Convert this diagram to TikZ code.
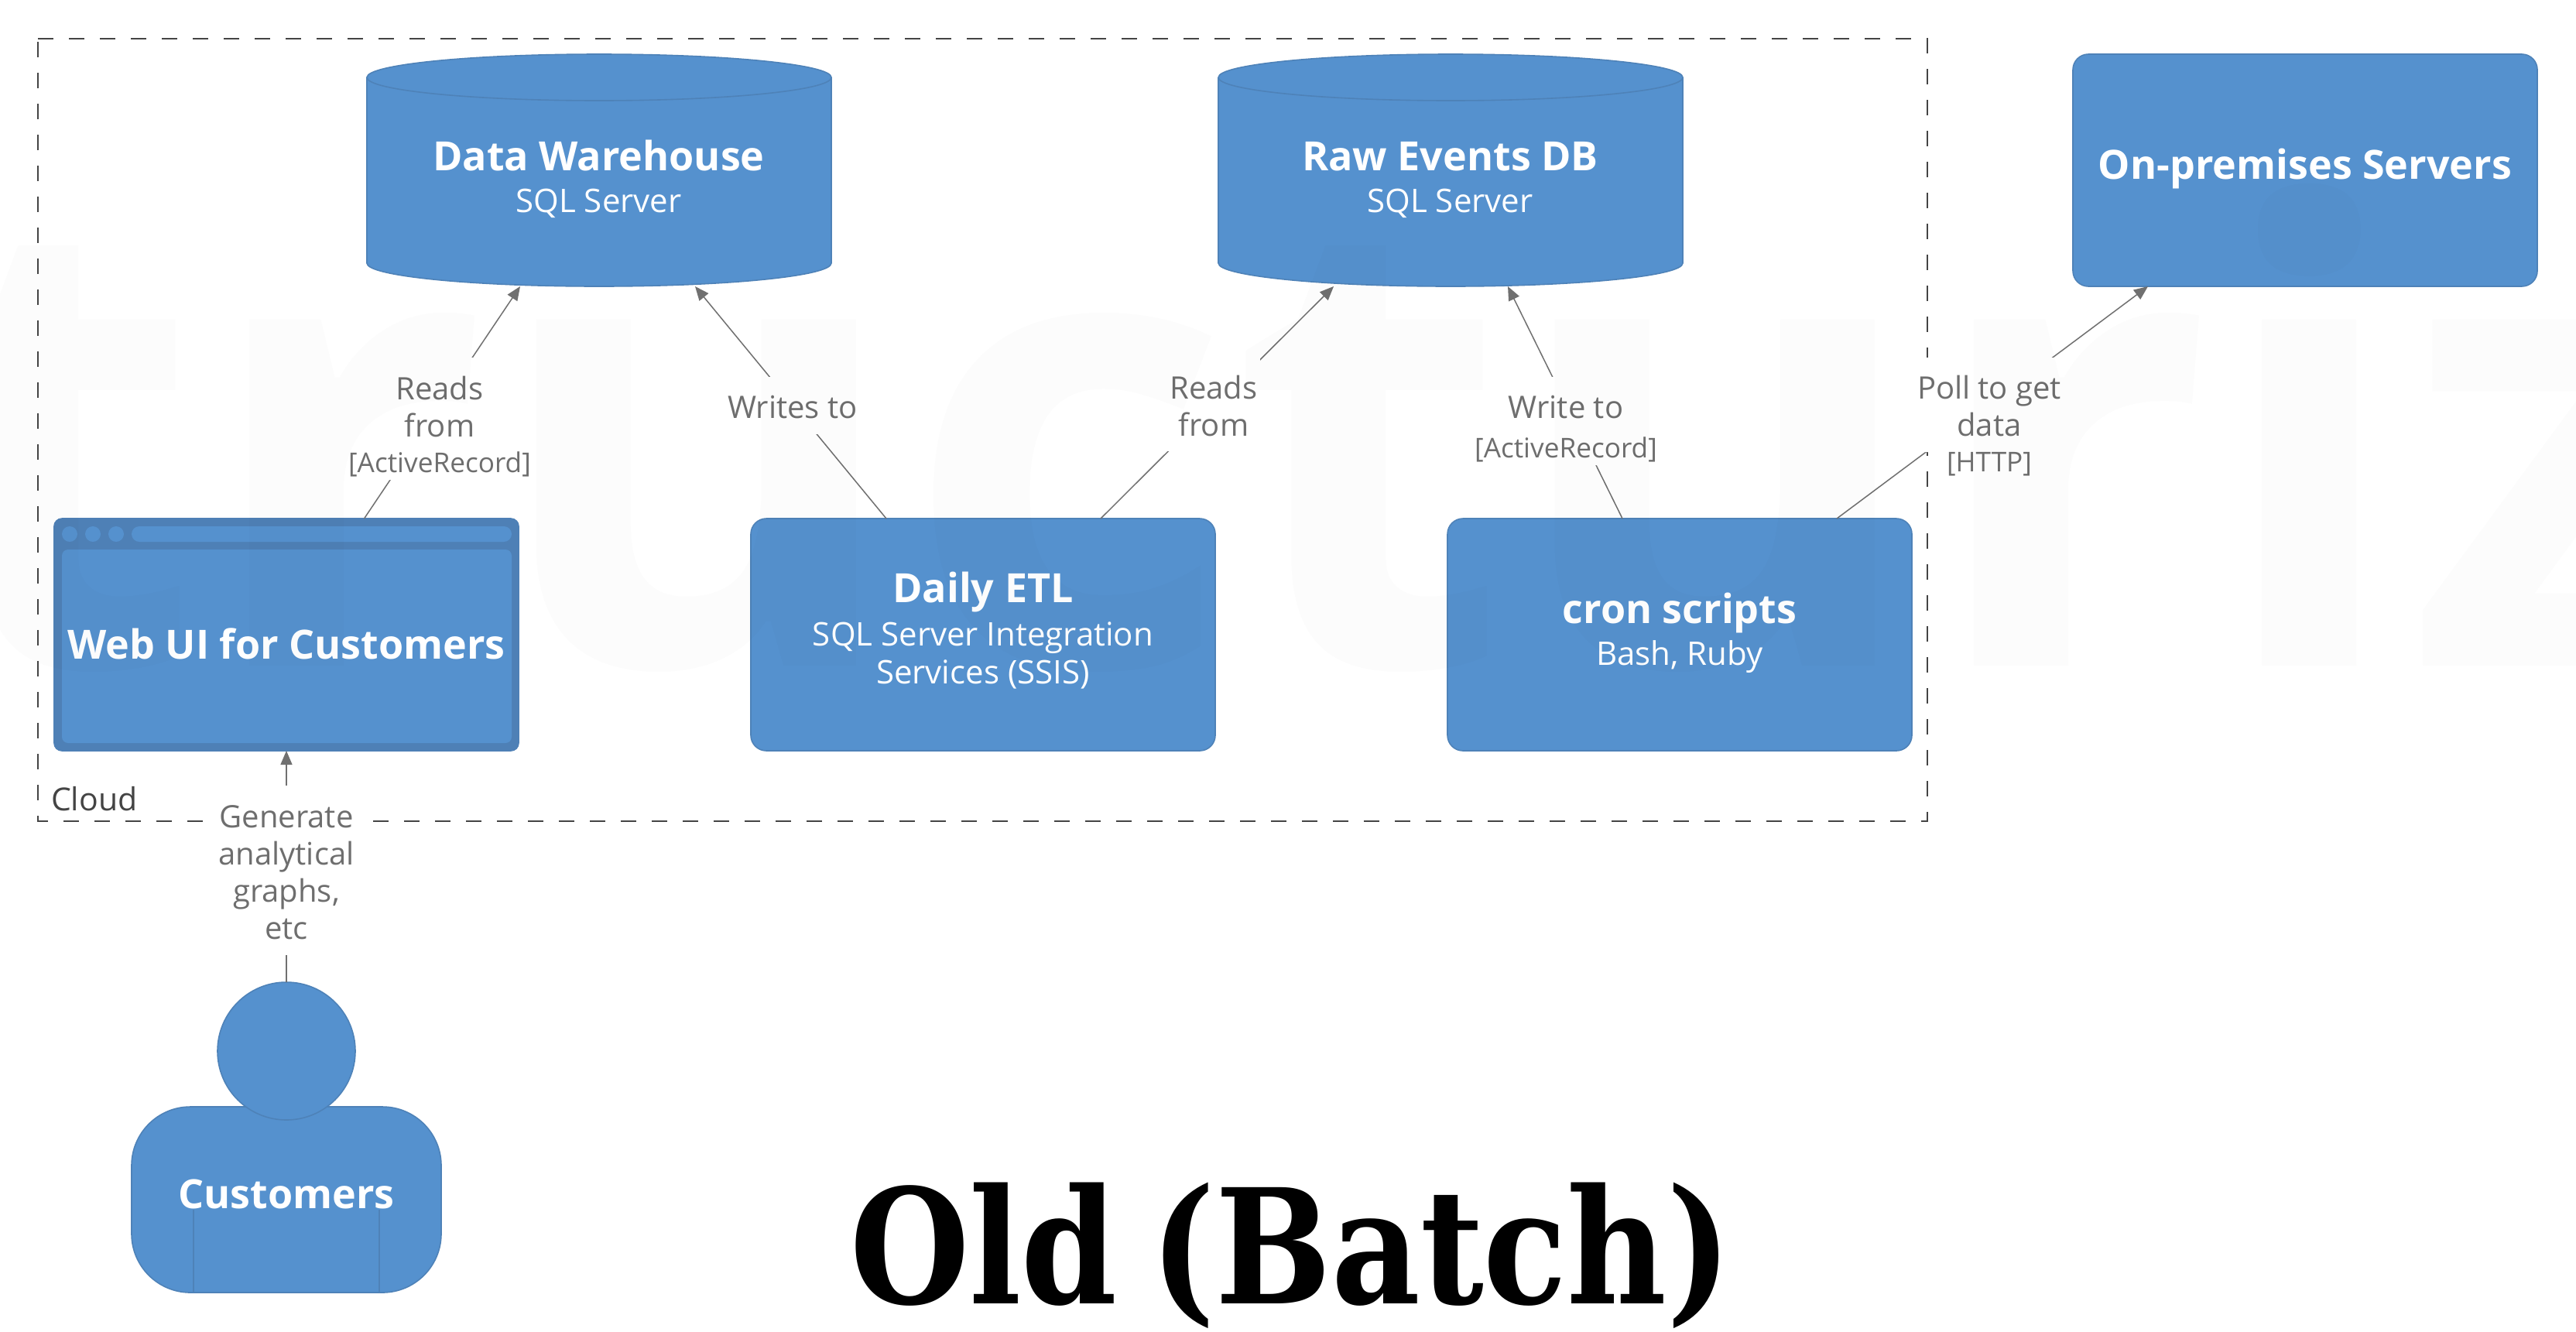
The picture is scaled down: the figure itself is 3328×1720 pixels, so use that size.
\documentclass[tikz,border=0pt]{standalone}
\usepackage{fontspec}
\setmainfont{Open Sans}
\newfontfamily\titlefont{DejaVu Serif}[FakeStretch=0.86,WordSpace=0.7]
\usetikzlibrary{arrows.meta,calc,shapes.geometric}
\definecolor{blu}{HTML}{5591CE}
\definecolor{edgeblu}{HTML}{4E82B8}
\definecolor{frameblu}{HTML}{4E80B6}
\definecolor{linkgrey}{HTML}{707070}
\definecolor{labgrey}{HTML}{6E6E6E}
\definecolor{cloudgrey}{HTML}{444444}
\tikzset{
  px/.style={inner sep=0pt,outer sep=0pt},
  boxnode/.style={px,rectangle,minimum width=300pt,minimum height=150pt,anchor=north west,draw=edgeblu,fill=blu,line width=.8pt,rounded corners=10pt},
  holder/.style={px,rectangle,minimum width=300pt,minimum height=150pt,anchor=north west},
  shapeline/.style={draw=edgeblu,fill=blu,line width=.8pt},
  link/.style={draw=linkgrey,line width=.75pt,-{Triangle[length=9pt,width=7.5pt]}},
  namet/.style={px,anchor=base,text=white,font=\fontsize{26}{30}\selectfont\bfseries},
  subt/.style={px,anchor=base,text=white,align=center,font=\fontsize{21}{24.5}\selectfont},
  lab/.style={px,anchor=base,text=labgrey,align=center,font=\fontsize{20}{24}\selectfont},
  meta/.style={px,anchor=base,text=labgrey,font=\fontsize{17.6}{20}\selectfont},
}
\newcommand{\cyl}[2]{% left x, name
  \path[shapeline] (#1,100) arc[x radius=300,y radius=30,start angle=180,end angle=360]
     -- (#1+600,340) arc[x radius=300,y radius=30,start angle=0,end angle=180] -- cycle;
  \draw[edgeblu,line width=.8pt] (#1,100) arc[x radius=300,y radius=30,start angle=180,end angle=0];
  \node[holder] (#2) at (#1,70) {};
}
\begin{document}
\begin{tikzpicture}[x=0.5pt,y=-0.5pt]
\useasboundingbox (0,0) rectangle (3328,1720);
\fill[white] (0,0) rectangle (3328,1720);
% boundary
\draw[cloudgrey,line width=1.1pt,dash pattern=on 10pt off 10pt] (49,50) -- (2490,50) -- (2490,1061) -- (49,1061) -- cycle;
\node[px,anchor=base west,text=cloudgrey,font=\fontsize{20.5}{24}\selectfont] (cloudlab) at (66,1047) {Cloud};
% shapes
\cyl{474}{dw}
\cyl{1574}{raw}
\node[boxnode] (onprem) at (2678,70) {};
\node[boxnode,rounded corners=5pt,draw=frameblu,fill=frameblu] (webui) at (70,670) {};
\node[boxnode] (etl) at (970,670) {};
\node[boxnode] (cron) at (1870,670) {};
\fill[blu,rounded corners=4pt] (80,710) rectangle (661,960);
\fill[blu] (90,690) circle (10) (120,690) circle (10) (150,690) circle (10);
\fill[blu,rounded corners=5pt] (170,680) rectangle (661,700);
% person
\node[px,rectangle,minimum width=200pt,minimum height=120pt,anchor=north west,draw=edgeblu,fill=blu,line width=.8pt,rounded corners=38pt] (body) at (170,1430) {};
\node[px,circle,minimum size=89pt,draw=edgeblu,fill=blu,line width=.8pt] (customers) at (370,1358) {};
\draw[edgeblu,line width=.8pt] (250,1563) -- (250,1670) (490,1563) -- (490,1670);
% connectors
\draw[link] ($(webui.north west)+(400.5,0)$) -- ($(dw.south west)+(198,0)$);
\draw[link] ($(etl.north west)+(175,0)$) -- ($(dw.south west)+(424,0)$);
\draw[link] ($(etl.north west)+(452,0)$) -- ($(raw.south west)+(149,0)$);
\draw[link] ($(cron.north west)+(226,0)$) -- ($(raw.south west)+(374,0)$);
\draw[link] ($(cron.north west)+(503,0)$) -- ($(onprem.south west)+(97,0)$);
\draw[link] (customers.north) -- (webui.south);
% label backgrounds
\fill[white] (505,462) rectangle (631,584) (452,584) rectangle (684,620);
\fill[white] (941,487) rectangle (1106,561);
\fill[white] (1508,463) rectangle (1628,583);
\fill[white] (1949,487) rectangle (2097,561) (1907,561) rectangle (2139,601);
\fill[white] (2478,462) rectangle (2662,584) (2517,584) rectangle (2622,620);
\fill[white] (281,1015) rectangle (464,1234);
% labels
\node[lab] (l1) at (568,564) {Reads\\from};
\node[meta] (m1) at (568,610) {[ActiveRecord]};
\node[lab] (l2) at (1024,540) {Writes to};
\node[lab] (l3) at (1568,563) {Reads\\from};
\node[lab] (l4) at (2023,540) {Write to};
\node[meta] (m4) at (2023,591) {[ActiveRecord]};
\node[lab] (l5) at (2570,563) {Poll to get\\data};
\node[meta] (m5) at (2570,609) {[HTTP]};
\node[lab] (l6) at (370,1213) {Generate\\analytical\\graphs,\\etc};
% names
\node[namet] (n1) at (773.5,220) {Data Warehouse};
\node[subt] (s1) at (773.5,274) {SQL Server};
\node[namet] (n2) at (1873.5,220) {Raw Events DB};
\node[subt] (s2) at (1873.5,274) {SQL Server};
\node[namet] (n3) at (2978,231) {On-premises Servers};
\node[namet] (n4) at (370,851) {Web UI for Customers};
\node[namet] (n5) at (1270,778) {Daily ETL};
\node[subt] (s5) at (1270,883) {SQL Server Integration\\Services (SSIS)};
\node[namet] (n6) at (2170,805) {cron scripts};
\node[subt] (s6) at (2170,859) {Bash, Ruby};
\node[namet] (n7) at (370,1561) {Customers};
% title
\node[px,anchor=base,font=\titlefont\fontsize{103}{110}\selectfont\bfseries] (title) at (1668,1684) {Old (Batch)};
% watermark
\begin{scope}
\clip (0,0) rectangle (3328,1720);
\node[px,anchor=base west,text=black,text opacity=0.012,font=\fontsize{410}{420}\selectfont\bfseries] (wm) at (-97,860) {tructuriz};
\end{scope}
\end{tikzpicture}
\end{document}
